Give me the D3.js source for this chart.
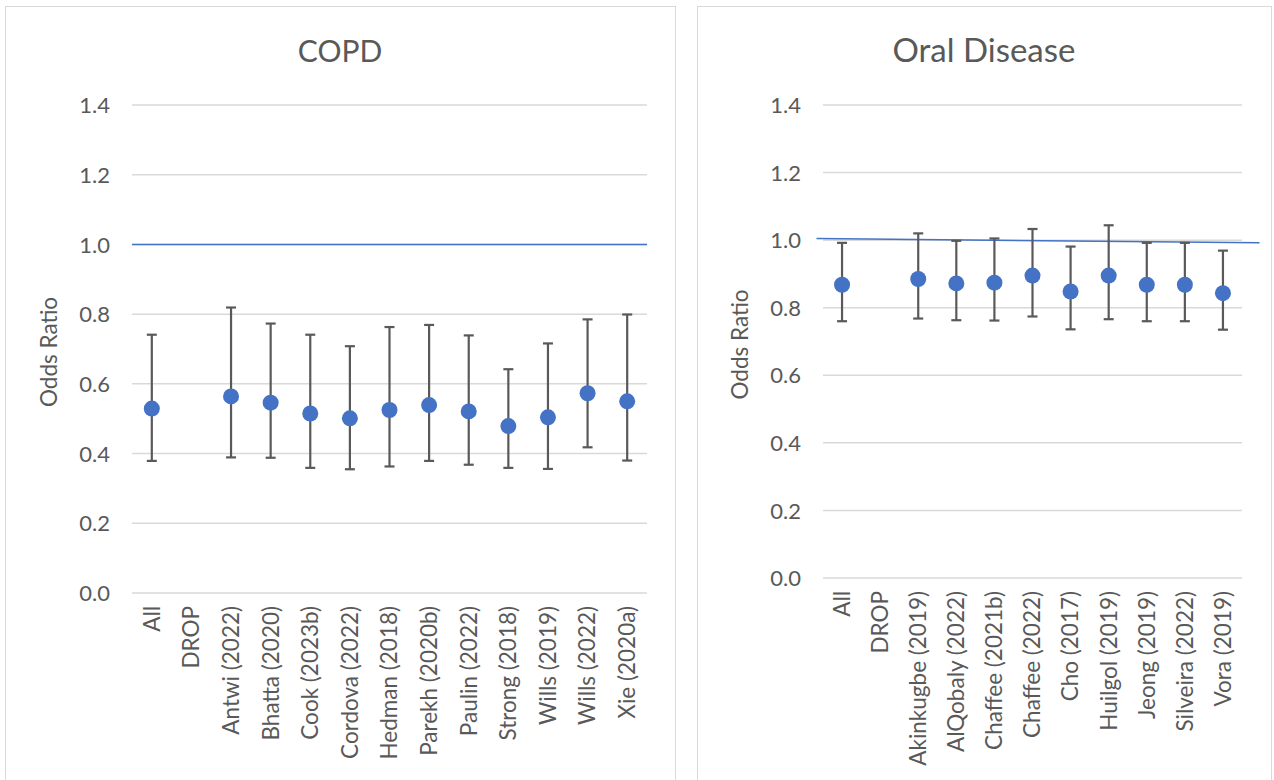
<!DOCTYPE html>
<html>
<head>
<meta charset="utf-8">
<script src="https://cdn.jsdelivr.net/npm/d3@7"></script>
<style>
    body { margin: 0; background: #fff; }
    svg text { font-family: Lato, "Open Sans", sans-serif; fill: #595959; }
</style>
</head>
<body>
<svg id="chart" width="1274" height="780"></svg>
<script>
// COPD panel
const copdStudies = ["All", "DROP", "Antwi (2022)", "Bhatta (2020)", "Cook (2023b)", "Cordova (2022)",
    "Hedman (2018)", "Parekh (2020b)", "Paulin (2022)", "Strong (2018)", "Wills (2019)", "Wills (2022)", "Xie (2020a)"];
const copdOR    = [0.529, null, 0.564, 0.546, 0.515, 0.501, 0.525, 0.539, 0.521, 0.479, 0.504, 0.573, 0.550];
const copdLower = [0.379, null, 0.389, 0.388, 0.359, 0.355, 0.363, 0.379, 0.368, 0.359, 0.356, 0.418, 0.380];
const copdUpper = [0.741, null, 0.819, 0.773, 0.741, 0.708, 0.763, 0.769, 0.739, 0.642, 0.716, 0.785, 0.799];
const copdRef = [[0, 1.0], [13, 1.0]]; // [category position, odds ratio]

// Oral disease panel
const oralStudies = ["All", "DROP", "Akinkugbe (2019)", "AlQobaly (2022)", "Chaffee (2021b)", "Chaffee (2022)",
    "Cho (2017)", "Huilgol (2019)", "Jeong (2019)", "Silveira (2022)", "Vora (2019)"];
const oralOR    = [0.868, null, 0.885, 0.872, 0.874, 0.895, 0.848, 0.895, 0.868, 0.868, 0.843];
const oralLower = [0.760, null, 0.768, 0.763, 0.762, 0.774, 0.736, 0.766, 0.760, 0.760, 0.735];
const oralUpper = [0.992, null, 1.020, 0.998, 1.005, 1.033, 0.981, 1.044, 0.992, 0.992, 0.969];
const oralRef = [[-0.17, 1.005], [11.46, 0.992]];

const yTicks = [0, 0.2, 0.4, 0.6, 0.8, 1.0, 1.2, 1.4];

const svg = d3.select('#chart');
const blue = '#4472C4';

function drawPanel(opt) {
    const g = svg.append('g');

    // panel frame
    g.append('rect')
        .attr('x', opt.frame[0] + 0.5).attr('y', 6.5)
        .attr('width', opt.frame[1] - opt.frame[0]).attr('height', 800)
        .attr('fill', '#fff').attr('stroke', '#d9d9d9').attr('stroke-width', 1);

    const x = d3.scaleBand().domain(opt.studies).range([opt.left, opt.right]);
    const pos = d3.scaleLinear().domain([0, opt.studies.length]).range([opt.left, opt.right]);
    const y = d3.scaleLinear().domain([0, 1.4]).range([opt.bottom, 105]);

    // title
    g.append('text')
        .attr('x', (opt.frame[0] + opt.frame[1]) / 2).attr('y', 62)
        .attr('text-anchor', 'middle')
        .style('font-size', opt.titleSize)
        .text(opt.title);

    // gridlines
    g.selectAll('.grid').data(yTicks).enter().append('line')
        .attr('x1', opt.left).attr('x2', opt.right)
        .attr('y1', d => y(d)).attr('y2', d => y(d))
        .attr('stroke', '#d9d9d9').attr('stroke-width', 1.5);

    // y axis
    const yAxis = g.append('g')
        .attr('transform', `translate(${opt.left - 22},0)`)
        .call(d3.axisLeft(y).tickValues(yTicks).tickFormat(d3.format('.1f')).tickSize(0).tickPadding(0));
    yAxis.select('.domain').remove();
    yAxis.selectAll('text').style('font-size', '22px').attr('dy', '0.35em');

    // x axis labels
    const xAxis = g.append('g')
        .attr('transform', `translate(0,${opt.bottom + 13})`)
        .call(d3.axisBottom(x).tickSize(0).tickPadding(0));
    xAxis.select('.domain').remove();
    xAxis.selectAll('text')
        .style('font-size', '22.5px')
        .attr('text-anchor', 'end')
        .attr('transform', 'rotate(-90)')
        .attr('x', 0).attr('y', 0).attr('dy', '0.35em');

    // y axis title
    g.append('text')
        .attr('transform', `translate(${opt.titleX},${(y(0) + y(1.4)) / 2 + 3}) rotate(-90)`)
        .attr('text-anchor', 'middle')
        .style('font-size', '22.5px')
        .text('Odds Ratio');

    // reference line at OR = 1
    g.append('line')
        .attr('x1', pos(opt.ref[0][0])).attr('y1', y(opt.ref[0][1]))
        .attr('x2', pos(opt.ref[1][0])).attr('y2', y(opt.ref[1][1]))
        .attr('stroke', blue).attr('stroke-width', 1.5);

    const rows = opt.studies.map((s, i) => ({ s, or: opt.or[i], lo: opt.lower[i], hi: opt.upper[i] }))
        .filter(d => d.or !== null);
    const cx = d => x(d.s) + x.bandwidth() / 2;

    // error bars
    const bars = g.selectAll('.err').data(rows).enter().append('g')
        .attr('stroke', '#595959').attr('stroke-width', 2.2);
    bars.append('line')
        .attr('x1', cx).attr('x2', cx)
        .attr('y1', d => y(d.lo)).attr('y2', d => y(d.hi));
    bars.append('line')
        .attr('x1', d => cx(d) - 5).attr('x2', d => cx(d) + 5)
        .attr('y1', d => y(d.lo)).attr('y2', d => y(d.lo));
    bars.append('line')
        .attr('x1', d => cx(d) - 5).attr('x2', d => cx(d) + 5)
        .attr('y1', d => y(d.hi)).attr('y2', d => y(d.hi));

    // points
    g.selectAll('.pt').data(rows).enter().append('circle')
        .attr('cx', cx).attr('cy', d => y(d.or))
        .attr('r', 8)
        .attr('fill', blue);
}

drawPanel({
    title: 'COPD', studies: copdStudies, or: copdOR, lower: copdLower, upper: copdUpper, ref: copdRef,
    frame: [5, 675], left: 132, right: 647, bottom: 593, titleX: 57, titleSize: '30px'
});
drawPanel({
    title: 'Oral Disease', studies: oralStudies, or: oralOR, lower: oralLower, upper: oralUpper, ref: oralRef,
    frame: [697, 1271], left: 823, right: 1242, bottom: 578, titleX: 748, titleSize: '33px'
});
</script>
</body>
</html>
